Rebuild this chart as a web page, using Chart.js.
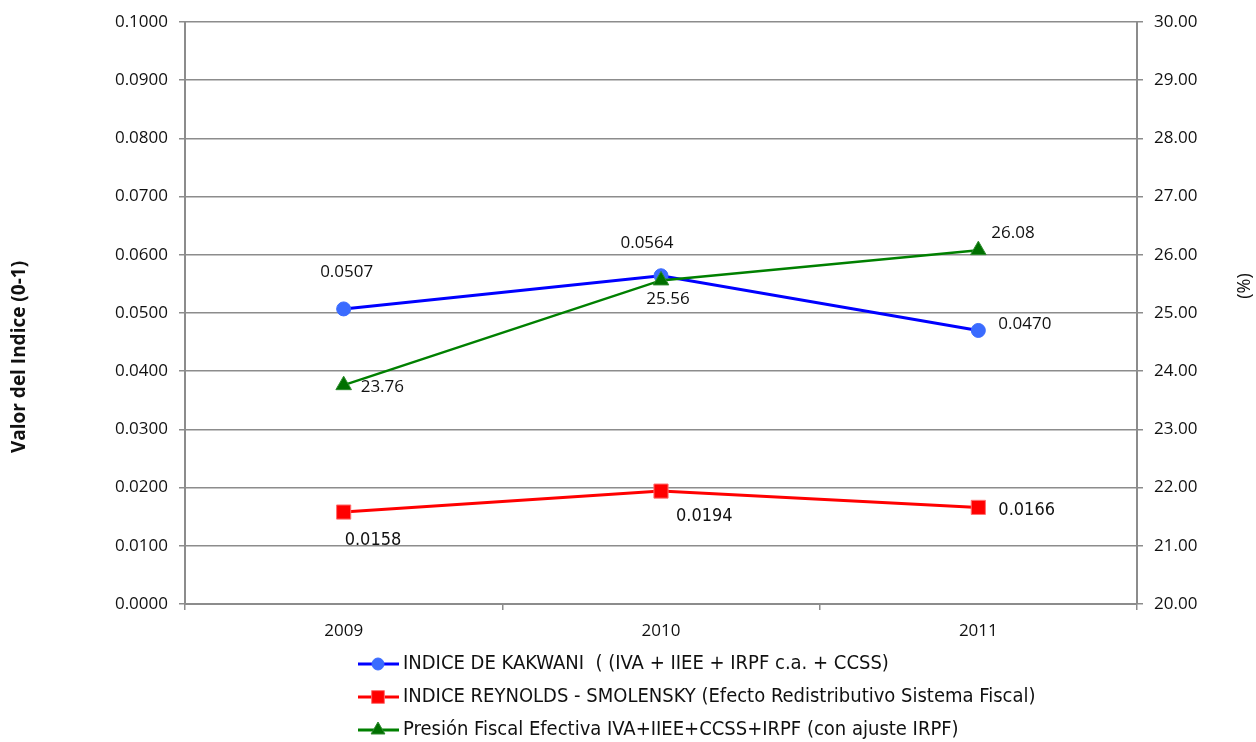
<!DOCTYPE html>
<html>
<head>
<meta charset="utf-8">
<script src="https://cdn.jsdelivr.net/npm/chart.js@4.4.0/dist/chart.umd.min.js"></script>
<style>
  body { margin: 0; background: #fff; }
  #wrap { width: 1256px; height: 742px; }
</style>
</head>
<body>
<div id="wrap"><canvas id="myChart" width="1256" height="742"></canvas></div>
<script>
/* globals Chart:false */

// Data
const years = ['2009', '2010', '2011']
const kakwani = [0.0507, 0.0564, 0.0470]
const reynolds = [0.0158, 0.0194, 0.0166]
const presion = [23.76, 25.56, 26.08]
const seriesNames = [
  'INDICE DE KAKWANI  ( (IVA + IIEE + IRPF c.a. + CCSS)',
  'INDICE REYNOLDS - SMOLENSKY (Efecto Redistributivo Sistema Fiscal)',
  'Presión Fiscal Efectiva IVA+IIEE+CCSS+IRPF (con ajuste IRPF)'
]
const leftTitle = 'Valor del Indice (0-1)'
const rightTitle = '(%)'

const FONT = '"Open Sans", "DejaVu Sans", sans-serif'
const NARROW = '"Liberation Sans Narrow", "DejaVu Sans Condensed", sans-serif'
const GRID = '#8c8c8c'

// value labels next to each point
const valueLabels = {
  id: 'valueLabels',
  afterDatasetsDraw (chart) {
    const ctx = chart.ctx
    ctx.save()
    ctx.fillStyle = '#111'
    ctx.textBaseline = 'middle'
    chart.data.datasets.forEach((ds, i) => {
      ctx.font = ds.labelFont
      chart.getDatasetMeta(i).data.forEach((pt, j) => {
        const p = ds.labelPos[j]
        ctx.textAlign = p[2]
        ctx.fillText(ds.data[j].toFixed(ds.decimals), pt.x + p[0], pt.y + p[1])
      })
    })
    ctx.restore()
  }
}

// vertical legend under the chart + axis titles
const extras = {
  id: 'extras',
  afterDraw (chart) {
    const ctx = chart.ctx
    ctx.save()
    const x0 = 358
    const rows = [664, 697, 730]
    chart.data.datasets.forEach((ds, i) => {
      const y = rows[i]
      ctx.strokeStyle = ds.borderColor
      ctx.lineWidth = 3
      ctx.beginPath()
      ctx.moveTo(x0, y)
      ctx.lineTo(x0 + 41, y)
      ctx.stroke()
      ctx.lineWidth = 1
      ctx.fillStyle = ds.pointBackgroundColor
      ctx.strokeStyle = ds.pointBorderColor
      Chart.helpers.drawPoint(ctx, { pointStyle: ds.pointStyle, radius: ds.legendRadius, borderWidth: 1, rotation: 0 }, x0 + 20, y)
      ctx.fillStyle = '#111'
      ctx.font = '20px ' + NARROW
      ctx.textAlign = 'left'
      ctx.textBaseline = 'middle'
      ctx.fillText(ds.label, x0 + 45, y)
    })

    ctx.fillStyle = '#111'
    ctx.font = 'bold 19px ' + FONT
    ctx.textAlign = 'center'
    ctx.textBaseline = 'middle'
    ctx.translate(20, 357)
    ctx.rotate(-Math.PI / 2)
    ctx.fillText(leftTitle, 0, 0)
    ctx.setTransform(1, 0, 0, 1, 0, 0)
    ctx.font = '18px ' + FONT
    ctx.translate(1245, 286)
    ctx.rotate(-Math.PI / 2)
    ctx.fillText(rightTitle, 0, 0)
    ctx.restore()
  }
}

const ctx = document.getElementById('myChart')

// eslint-disable-next-line no-unused-vars
const myChart = new Chart(ctx, {
  type: 'line',
  data: {
    labels: years,
    datasets: [{
      label: seriesNames[0],
      data: kakwani,
      yAxisID: 'y',
      order: 1,
      decimals: 4,
      labelFont: '17px ' + FONT,
      labelPos: [[3, -37, 'center'], [-14, -33, 'center'], [20, -6, 'left']],
      borderColor: '#0000ff',
      borderWidth: 3,
      pointStyle: 'circle',
      pointRadius: 7,
      legendRadius: 6,
      pointBackgroundColor: '#3a6bff',
      pointBorderColor: '#3a6bff',
      pointBorderWidth: 1,
      lineTension: 0
    }, {
      label: seriesNames[1],
      data: reynolds,
      yAxisID: 'y',
      order: 1,
      decimals: 4,
      labelFont: '18px ' + NARROW,
      labelPos: [[1, 28, 'left'], [15, 25, 'left'], [20, 3, 'left']],
      borderColor: '#ff0000',
      borderWidth: 3,
      pointStyle: 'rect',
      pointRadius: 10,
      legendRadius: 9,
      pointBackgroundColor: '#ff0000',
      pointBorderColor: '#ff7070',
      pointBorderWidth: 1,
      lineTension: 0
    }, {
      label: seriesNames[2],
      data: presion,
      yAxisID: 'y1',
      order: 0,
      decimals: 2,
      labelFont: '17px ' + FONT,
      labelPos: [[17, 2, 'left'], [7, 19, 'center'], [13, -17, 'left']],
      borderColor: '#008000',
      borderWidth: 2.5,
      pointStyle: 'triangle',
      pointRadius: 9,
      legendRadius: 8,
      pointBackgroundColor: '#007000',
      pointBorderColor: '#2e8b2e',
      pointBorderWidth: 1,
      lineTension: 0
    }]
  },
  options: {
    responsive: false,
    animation: false,
    layout: { padding: { top: 22, bottom: 98, left: 0, right: 0 } },
    plugins: {
      legend: { display: false },
      tooltip: { enabled: false }
    },
    scales: {
      x: {
        offset: true,
        grid: { drawOnChartArea: false, offset: true, tickLength: 6, color: GRID, lineWidth: 1.5 },
        border: { color: GRID, width: 2 },
        ticks: { color: '#111', font: { family: FONT, size: 17 }, padding: 11 },
        afterFit (scale) { scale.height = 40 }
      },
      y: {
        position: 'left',
        min: 0,
        max: 0.1,
        grid: { color: GRID, lineWidth: 1.5, tickLength: 6 },
        border: { color: GRID, width: 2 },
        ticks: {
          stepSize: 0.01,
          color: '#111',
          font: { family: FONT, size: 17 },
          padding: 11,
          callback: v => v.toFixed(4)
        },
        afterFit (scale) { scale.width = 185 }
      },
      y1: {
        position: 'right',
        min: 20,
        max: 30,
        grid: { drawOnChartArea: false, color: GRID, lineWidth: 1.5, tickLength: 6 },
        border: { color: GRID, width: 2 },
        ticks: {
          stepSize: 1,
          color: '#111',
          font: { family: FONT, size: 17 },
          padding: 11,
          callback: v => v.toFixed(2)
        },
        afterFit (scale) { scale.width = 119 }
      }
    }
  },
  plugins: [valueLabels, extras]
})
</script>
</body>
</html>
